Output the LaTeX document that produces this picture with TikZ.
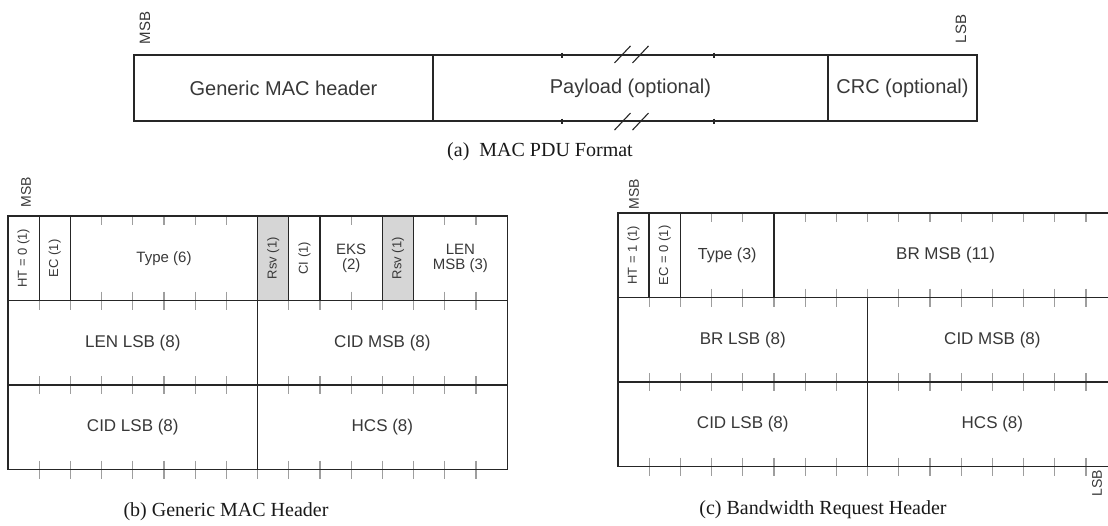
\documentclass[tikz,border=0pt]{standalone}
\usepackage{fontspec}
\setmainfont{Liberation Serif}
\setsansfont{Liberation Sans}
\usetikzlibrary{positioning}

\definecolor{labelgray}{gray}{0.22}
\definecolor{rsvgray}{gray}{0.84}
\definecolor{tickgray}{gray}{0.62}
\newcommand{\fsz}[1]{\fontsize{#1}{#1}\selectfont}
\def\bw{31.2}

\begin{document}
\begin{tikzpicture}[
    x=1pt, y=-1pt,
    every node/.style={text=labelgray, inner sep=0pt},
    % PDU box (top)
    pdu/.style={draw=black!85, line width=1.1pt, minimum height=66pt,
        font=\sffamily\fsz{20}},
    % Header field: one cell of a 16 bit row
    field/.style={draw=black!85, line width=1.3pt, minimum height=84.5pt,
        align=center, font=\sffamily\fsz{17}},
    bits/.style={minimum width=#1*\bw*1pt},
    smalllbl/.style={font=\sffamily\fsz{15}},
    rsv/.style={fill=rsvgray},
    % Rotated label in a 1 bit cell
    vlbl/.style={rotate=90, font=\sffamily\fsz{13}, text=labelgray},
    msb/.style={rotate=90, font=\sffamily\fsz{15}},
    % Bit ticks
    bittick/.style={draw=tickgray, line width=1.1pt},
    brk/.style={draw=black!85, line width=1.1pt},
    figcap/.style={font=\fsz{20}, text=black!90},
]
\useasboundingbox (0,0) rectangle (1108,525);

% ====================================================
% (a) MAC PDU FORMAT
% ====================================================
\node[msb] (a-msb) at (145,28) {MSB};
\node[msb] (a-lsb) at (961,29) {LSB};

\node[pdu, minimum width=299pt] (a-hdr) at (283.5,88) {Generic MAC header};
\node[pdu, minimum width=395pt] (a-pay) at (630.5,88) {Payload (optional)};
\node[pdu, minimum width=149pt] (a-crc) at (902.5,88) {CRC (optional)};

% small marks on the payload edges
\foreach \x in {562,714} {
    \draw[brk] (\x,52.5) -- (\x,57.5);
    \draw[brk] (\x,118.5) -- (\x,123.5);
}

% break marks
\foreach \s in {-8,10} {
    \draw[brk] ([xshift=\s pt-8pt, yshift=-8.5pt]a-pay.north) -- ([xshift=\s pt+8pt, yshift=8.5pt]a-pay.north);
    \draw[brk] ([xshift=\s pt-8pt, yshift=-8.5pt]a-pay.south) -- ([xshift=\s pt+8pt, yshift=8.5pt]a-pay.south);
}

\node[figcap] (a-cap) at (540,152) {(a)~ MAC PDU Format};

% ====================================================
% (b) GENERIC MAC HEADER
% ====================================================
\node[msb, font=\sffamily\fsz{14}] (b-msb) at (26,192) {MSB};

\begin{scope}[shift={(8,216)}]

    % Bit ticks
    \foreach \i in {1,...,15} {
        \draw[bittick] ({\i*\bw},0) -- ({\i*\bw},9);
        \foreach \r in {84.5,169,253.5}
            \draw[bittick] ({\i*\bw},\r-9) -- ({\i*\bw},\r+9);
    }

    % Row 1
    \node[field, bits=1, label={[vlbl]center:HT = 0 (1)}] (b-ht) at ({0.5*\bw},42.25) {};
    \node[field, bits=1, label={[vlbl]center:EC (1)}] (b-ec) at ({1.5*\bw},42.25) {};
    \node[field, smalllbl, bits=6] (b-type) at ({5*\bw},42.25) {Type (6)};
    \node[field, rsv, bits=1, label={[vlbl]center:Rsv (1)}] (b-rsv1) at ({8.5*\bw},42.25) {};
    \node[field, bits=1, label={[vlbl]center:CI (1)}] (b-ci) at ({9.5*\bw},42.25) {};
    \node[field, smalllbl, bits=2] (b-eks) at ({11*\bw},42.25) {EKS\\(2)};
    \node[field, rsv, bits=1, label={[vlbl]center:Rsv (1)}] (b-rsv2) at ({12.5*\bw},42.25) {};
    \node[field, smalllbl, bits=3] (b-lenmsb) at ({14.5*\bw},42.25) {LEN\\MSB (3)};

    % Row 2
    \node[field, bits=8] (b-lenlsb) at ({4*\bw},126.75) {LEN LSB (8)};
    \node[field, bits=8] (b-cidmsb) at ({12*\bw},126.75) {CID MSB (8)};

    % Row 3
    \node[field, bits=8] (b-cidlsb) at ({4*\bw},211.25) {CID LSB (8)};
    \node[field, bits=8] (b-hcs) at ({12*\bw},211.25) {HCS (8)};

\end{scope}

\node[figcap] (b-cap) at (226,512) {(b) Generic MAC Header};

% ====================================================
% (c) BANDWIDTH REQUEST HEADER
% ====================================================
\node[msb, font=\sffamily\fsz{14}] (c-msb) at (634,194) {MSB};
\node[msb, font=\sffamily\fsz{14}] (c-lsb) at (1097,483) {LSB};

\begin{scope}
\clip (0,0) rectangle (1108,525);
\begin{scope}[shift={(618,213)}, field/.append style={line width=1.5pt}]

    % Bit ticks
    \foreach \i in {1,...,15} {
        \draw[bittick] ({\i*\bw},0) -- ({\i*\bw},9);
        \foreach \r in {84.5,169,253.5}
            \draw[bittick] ({\i*\bw},\r-9) -- ({\i*\bw},\r+9);
    }

    % Row 1
    \node[field, bits=1, label={[vlbl]center:HT = 1 (1)}] (c-ht) at ({0.5*\bw},42.25) {};
    \node[field, bits=1, label={[vlbl]center:EC = 0 (1)}] (c-ec) at ({1.5*\bw},42.25) {};
    \node[field, font=\sffamily\fsz{16}, bits=3] (c-type) at ({3.5*\bw},42.25) {Type (3)};
    \node[field, bits=11] (c-brmsb) at ({10.5*\bw},42.25) {BR MSB (11)};

    % Row 2
    \node[field, bits=8] (c-brlsb) at ({4*\bw},126.75) {BR LSB (8)};
    \node[field, bits=8] (c-cidmsb) at ({12*\bw},126.75) {CID MSB (8)};

    % Row 3
    \node[field, bits=8] (c-cidlsb) at ({4*\bw},211.25) {CID LSB (8)};
    \node[field, bits=8] (c-hcs) at ({12*\bw},211.25) {HCS (8)};

\end{scope}
\end{scope}

\node[figcap] (c-cap) at (823,510) {(c) Bandwidth Request Header};

\end{tikzpicture}
\end{document}
